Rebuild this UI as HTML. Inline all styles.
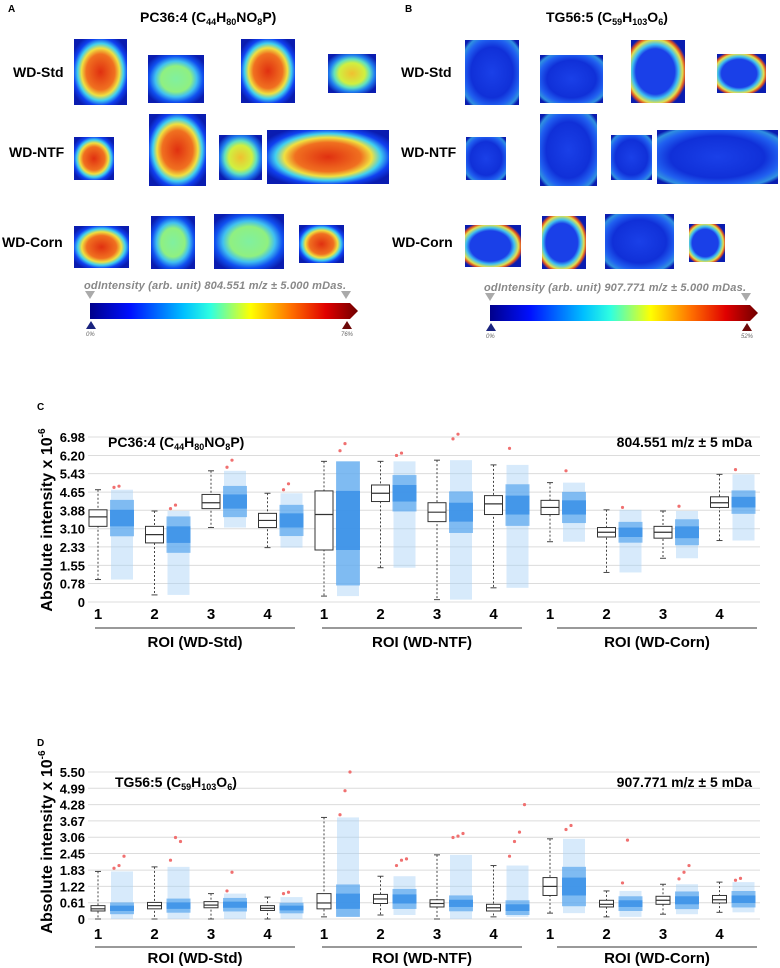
<!DOCTYPE html>
<html><head><meta charset="utf-8">
<style>
html,body{margin:0;padding:0;background:#fff;}
svg{display:block;font-family:"Liberation Sans",Arial,sans-serif;}
</style></head>
<body>
<svg id="fig" width="780" height="968" viewBox="0 0 780 968">
<defs>
 <radialGradient id="hotA" cx="50%" cy="50%" r="60%">
  <stop offset="0" stop-color="#e03010"/><stop offset="0.45" stop-color="#f07020"/><stop offset="0.6" stop-color="#f0e040"/><stop offset="0.72" stop-color="#40d0f0"/><stop offset="0.85" stop-color="#1040f0"/><stop offset="1" stop-color="#0a1cb0"/>
 </radialGradient>
 <radialGradient id="warmA" cx="50%" cy="50%" r="60%">
  <stop offset="0" stop-color="#f0c030"/><stop offset="0.45" stop-color="#d0f040"/><stop offset="0.62" stop-color="#60e0c0"/><stop offset="0.78" stop-color="#2080f0"/><stop offset="1" stop-color="#0a1cb0"/>
 </radialGradient>
 <radialGradient id="coolA" cx="50%" cy="50%" r="60%">
  <stop offset="0" stop-color="#80f0a0"/><stop offset="0.45" stop-color="#90f080"/><stop offset="0.62" stop-color="#40c0f0"/><stop offset="0.8" stop-color="#1050f0"/><stop offset="1" stop-color="#0a1cb0"/>
 </radialGradient>
 <radialGradient id="blueB" cx="50%" cy="50%" r="65%">
  <stop offset="0" stop-color="#1a40e8"/><stop offset="0.6" stop-color="#1030d8"/><stop offset="0.8" stop-color="#2060f0"/><stop offset="0.92" stop-color="#3090e0"/><stop offset="1" stop-color="#0a1cb0"/>
 </radialGradient>
 <radialGradient id="edgeB" cx="45%" cy="50%" r="60%">
  <stop offset="0" stop-color="#1a40e8"/><stop offset="0.6" stop-color="#1a40e8"/><stop offset="0.72" stop-color="#40c0f0"/><stop offset="0.84" stop-color="#e0e050"/><stop offset="0.92" stop-color="#e05020"/><stop offset="1" stop-color="#0a1cb0"/>
 </radialGradient>
 <linearGradient id="cbar" x1="0" x2="1">
  <stop offset="0" stop-color="#00008b"/><stop offset="0.15" stop-color="#0010ff"/><stop offset="0.35" stop-color="#00c0ff"/><stop offset="0.45" stop-color="#30ffe0"/><stop offset="0.6" stop-color="#ffff00"/><stop offset="0.75" stop-color="#ff7000"/><stop offset="0.88" stop-color="#e00000"/><stop offset="1" stop-color="#700000"/>
 </linearGradient>
</defs>

<text x="8" y="12" font-size="10" font-weight="bold">A</text>
<text x="140" y="22" font-size="14" font-weight="bold">PC36:4 (C<tspan font-size="9" dy="3">44</tspan><tspan dy="-3">H</tspan><tspan font-size="9" dy="3">80</tspan><tspan dy="-3">NO</tspan><tspan font-size="9" dy="3">8</tspan><tspan dy="-3">P)</tspan></text>
<text x="13" y="77" font-size="14" font-weight="bold">WD-Std</text>
<text x="9" y="157" font-size="14" font-weight="bold">WD-NTF</text>
<text x="2" y="247" font-size="14" font-weight="bold">WD-Corn</text>

<text x="405" y="12" font-size="10" font-weight="bold">B</text>
<text x="546" y="22" font-size="14" font-weight="bold">TG56:5 (C<tspan font-size="9" dy="3">59</tspan><tspan dy="-3">H</tspan><tspan font-size="9" dy="3">103</tspan><tspan dy="-3">O</tspan><tspan font-size="9" dy="3">6</tspan><tspan dy="-3">)</tspan></text>
<text x="401" y="77" font-size="14" font-weight="bold">WD-Std</text>
<text x="401" y="157" font-size="14" font-weight="bold">WD-NTF</text>
<text x="392" y="247" font-size="14" font-weight="bold">WD-Corn</text>

<g id="images"></g>

<g>
 <text x="84" y="289" font-size="11" font-style="italic" font-weight="bold" fill="#888" textLength="262">odIntensity (arb. unit) 804.551 m/z ± 5.000  mDas.</text>
 <polygon points="85,291 95,291 90,299" fill="#aaa"/><polygon points="341,291 351,291 346,299" fill="#aaa"/>
 <polygon points="90,303 350,303 358,311 350,319 90,319" fill="url(#cbar)"/>
 <polygon points="86,329 96,329 91,321" fill="#1a237e"/><polygon points="342,329 352,329 347,321" fill="#6d0a0a"/>
 <text x="86" y="336" font-size="6" fill="#666" font-style="italic">0%</text><text x="341" y="336" font-size="6" fill="#666" font-style="italic">76%</text>
</g>
<g>
 <text x="484" y="291" font-size="11" font-style="italic" font-weight="bold" fill="#888" textLength="262">odIntensity (arb. unit) 907.771 m/z ± 5.000  mDas.</text>
 <polygon points="485,293 495,293 490,301" fill="#aaa"/><polygon points="741,293 751,293 746,301" fill="#aaa"/>
 <polygon points="490,305 750,305 758,313 750,321 490,321" fill="url(#cbar)"/>
 <polygon points="486,331 496,331 491,323" fill="#1a237e"/><polygon points="742,331 752,331 747,323" fill="#6d0a0a"/>
 <text x="486" y="338" font-size="6" fill="#666" font-style="italic">0%</text><text x="741" y="338" font-size="6" fill="#666" font-style="italic">52%</text>
</g>

<text x="37" y="410" font-size="10" font-weight="bold">C</text>
<text x="37" y="746" font-size="10" font-weight="bold">D</text>
<g id="chartC"></g>
<g id="chartD"></g>
</svg>

<script>
// ---------- Panel C data (PC36:4) ----------
const categories = ["1","2","3","4","1","2","3","4","1","2","3","4"];
const groupLabels = ["ROI (WD-Std)","ROI (WD-NTF)","ROI (WD-Corn)"];
const cTicks = [0,0.78,1.55,2.33,3.10,3.88,4.65,5.43,6.20,6.98];
const cTickLabels = ["0","0.78","1.55","2.33","3.10","3.88","4.65","5.43","6.20","6.98"];
const cMedian = [3.6,2.85,4.2,3.45,3.7,4.6,3.8,4.15,4.0,2.95,2.95,4.2];
const cQ1 = [3.2,2.5,3.95,3.15,2.2,4.25,3.4,3.7,3.7,2.75,2.7,4.0];
const cQ3 = [3.9,3.2,4.55,3.75,4.7,4.95,4.2,4.5,4.3,3.15,3.2,4.45];
const cLow = [0.95,0.3,3.15,2.3,0.25,1.45,0.1,0.6,2.55,1.25,1.85,2.6];
const cHigh = [4.75,3.85,5.55,4.6,5.95,5.95,6.0,5.8,5.05,3.9,3.85,5.4];
const cOutliers = [[4.85,4.9],[3.95,4.1],[5.7,6.0],[4.75,5.0],[6.4,6.7],[6.2,6.3],[6.9,7.1],[6.5],[5.55],[4.0],[4.05],[5.6]];

// ---------- Panel D data (TG56:5) ----------
const dTicks = [0,0.61,1.22,1.83,2.45,3.06,3.67,4.28,4.89,5.50];
const dTickLabels = ["0","0.61","1.22","1.83","2.45","3.06","3.67","4.28","4.99","5.50"];
const dMedian = [0.38,0.5,0.52,0.4,0.6,0.75,0.58,0.42,1.22,0.55,0.7,0.72];
const dQ1 = [0.3,0.38,0.42,0.32,0.38,0.58,0.45,0.3,0.88,0.45,0.55,0.6];
const dQ3 = [0.5,0.62,0.65,0.5,0.95,0.92,0.72,0.55,1.55,0.7,0.85,0.88];
const dLow = [0,0,0,0,0.08,0.15,0,0.08,0.22,0.08,0.18,0.25];
const dHigh = [1.78,1.95,0.95,0.82,3.8,1.6,2.4,2.0,3.0,1.05,1.3,1.38];
const dOutliers = [[1.9,2.0,2.35],[2.2,3.05,2.9],[1.05,1.75],[0.95,1.0],[3.9,4.8,5.5],[2.0,2.2,2.25],[3.05,3.1,3.2],[2.35,2.9,3.25,4.28],[3.35,3.5],[1.35,2.95],[1.5,1.75,2.0],[1.45,1.52]];

const NS = "http://www.w3.org/2000/svg";
function mk(tag, attrs, parent){ const e=document.createElementNS(NS,tag); for(const k in attrs) e.setAttribute(k,attrs[k]); parent.appendChild(e); return e; }

const imgs = document.getElementById('images');
const tiles = [
 [74,39,53,66,'hotA'],[148,55,56,48,'coolA'],[241,39,54,64,'hotA'],[328,54,48,39,'warmA'],
 [74,137,40,43,'hotA'],[149,114,57,72,'hotA'],[219,135,43,45,'warmA'],[267,130,122,54,'hotA'],
 [74,226,55,42,'hotA'],[151,216,44,53,'coolA'],[214,214,70,55,'coolA'],[299,225,45,38,'hotA'],
 [465,40,54,65,'blueB'],[540,55,63,48,'blueB'],[631,40,54,63,'edgeB'],[717,54,49,39,'edgeB'],
 [466,137,40,43,'blueB'],[540,114,57,72,'blueB'],[611,135,41,45,'blueB'],[657,130,121,54,'blueB'],
 [465,225,56,42,'edgeB'],[542,216,44,53,'edgeB'],[605,214,69,55,'blueB'],[689,224,36,38,'edgeB']
];
tiles.forEach((t,i)=>{
  const r = mk('rect',{x:t[0],y:t[1],width:t[2],height:t[3],fill:'url(#'+t[4]+')'},imgs);
  
  
});

function drawChart(gid, cfg){
  const g = document.getElementById(gid);
  const y = v => cfg.y0 - (v/cfg.vmax)*(cfg.y0-cfg.y1);
  const x = i => 98 + i*56.5;
  cfg.ticks.forEach((t,i)=>{
    const gl = mk('line',{x1:cfg.gx0,x2:760,y1:y(t),y2:y(t),stroke:'#dcdcdc','stroke-width':1},g);
    
    
    const tl = mk('text',{x:cfg.tickX,y:y(t)+5,'font-size':13,'font-weight':'bold','text-anchor':'end'},g);
    tl.textContent = cfg.tickLabels[i];
    
    
  });
  const yt = mk('text',{x:0,y:0,'font-size':16,'font-weight':'bold','text-anchor':'middle',transform:'translate('+cfg.ytx+','+cfg.ytc+') rotate(-90)'},g);
  yt.innerHTML = 'Absolute intensity x 10<tspan font-size="10" dy="-7">-6</tspan>';
  
  
  categories.forEach((c,i)=>{
    const cx = x(i), sx = cx+24, bw = cfg.bw;
    const lo=cfg.low[i], hi=cfg.high[i], q1=cfg.q1[i], q3=cfg.q3[i], md=cfg.med[i], iqr=q3-q1;
    const s1 = mk('rect',{x:sx-11,y:y(hi),width:22,height:y(lo)-y(hi),fill:'#a6d0f6','fill-opacity':0.45},g);
    
    
    const mlo=Math.max(lo,q1-0.6*iqr), mhi=Math.min(hi,q3+0.6*iqr);
    const s2 = mk('rect',{x:sx-12,y:y(mhi),width:24,height:y(mlo)-y(mhi),fill:'#5aa6ee','fill-opacity':0.7},g);
    
    
    const s3 = mk('rect',{x:sx-12,y:y(q3),width:24,height:y(q1)-y(q3),fill:'#3a90e8','fill-opacity':0.85},g);
    
    
    cfg.out[i].forEach((o,k)=>{
      const d = mk('circle',{cx:sx-8+k*5,cy:y(o),r:1.6,fill:'#f07070'},g);
      
      
    });
    const w = mk('line',{x1:cx,x2:cx,y1:y(hi),y2:y(lo),stroke:'#444','stroke-width':1,'stroke-dasharray':'2,2'},g);
    
    
    [hi,lo].forEach(v=>{
      const cap = mk('line',{x1:cx-3,x2:cx+3,y1:y(v),y2:y(v),stroke:'#444'},g);
      
      
    });
    const b = mk('rect',{x:cx-bw/2,y:y(q3),width:bw,height:y(q1)-y(q3),fill:'#fff',stroke:'#333','stroke-width':1},g);
    
    
    const m = mk('line',{x1:cx-bw/2,x2:cx+bw/2,y1:y(md),y2:y(md),stroke:'#333','stroke-width':1.2},g);
    
    
    const lab = mk('text',{x:cx,y:cfg.labY,'font-size':15,'font-weight':'bold','text-anchor':'middle'},g);
    lab.textContent = c;
    
    
  });
  const gx = [[95,295],[322,522],[557,757]];
  groupLabels.forEach((gl,k)=>{
    const l = mk('line',{x1:gx[k][0],x2:gx[k][1],y1:cfg.lineY,y2:cfg.lineY,stroke:'#333','stroke-width':1},g);
    
    
    const t = mk('text',{x:(gx[k][0]+gx[k][1])/2,y:cfg.lineY+cfg.grpDy,'font-size':15,'font-weight':'bold','text-anchor':'middle'},g);
    t.textContent = gl;
    
    
  });
  const tt = mk('text',{x:cfg.titleX,y:cfg.titleY,'font-size':14,'font-weight':'bold'},g);
  tt.innerHTML = cfg.title;
  
  
  const mz = mk('text',{x:752,y:cfg.titleY,'font-size':14,'font-weight':'bold','text-anchor':'end'},g);
  mz.textContent = cfg.mz;
  
  
}

drawChart('chartC',{y0:602,y1:437,vmax:6.98,ticks:cTicks,tickLabels:cTickLabels,med:cMedian,q1:cQ1,q3:cQ3,low:cLow,high:cHigh,out:cOutliers,bw:18,labY:619,lineY:628,grpDy:19,ytx:52,ytc:520,tickX:85,gx0:88,titleX:108,titleY:447,
  title:'PC36:4 (C<tspan font-size="9" dy="3">44</tspan><tspan dy="-3">H</tspan><tspan font-size="9" dy="3">80</tspan><tspan dy="-3">NO</tspan><tspan font-size="9" dy="3">8</tspan><tspan dy="-3">P)</tspan>',
  mz:'804.551 m/z ± 5 mDa'});
drawChart('chartD',{y0:919,y1:772,vmax:5.50,ticks:dTicks,tickLabels:dTickLabels,med:dMedian,q1:dQ1,q3:dQ3,low:dLow,high:dHigh,out:dOutliers,bw:14,labY:939,lineY:947,grpDy:16,ytx:52,ytc:842,tickX:85,gx0:88,titleX:115,titleY:787,
  title:'TG56:5 (C<tspan font-size="9" dy="3">59</tspan><tspan dy="-3">H</tspan><tspan font-size="9" dy="3">103</tspan><tspan dy="-3">O</tspan><tspan font-size="9" dy="3">6</tspan><tspan dy="-3">)</tspan>',
  mz:'907.771 m/z ± 5 mDa'});
</script>
</body></html>
